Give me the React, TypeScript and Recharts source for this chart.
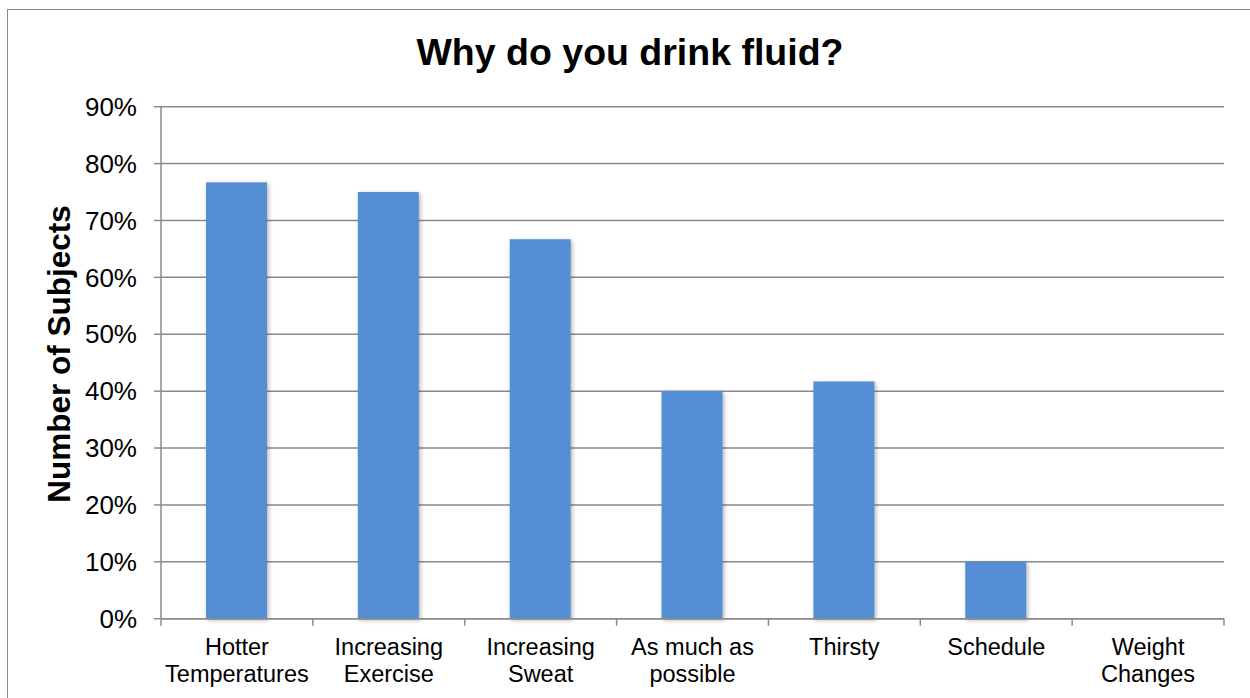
import React from "react";
import { Bar, BarChart, CartesianGrid, XAxis, YAxis } from "recharts";

// categories and values ("\n" marks where the label wraps)
const categories = [
  "Hotter\nTemperatures",
  "Increasing\nExercise",
  "Increasing\nSweat",
  "As much as\npossible",
  "Thirsty",
  "Schedule",
  "Weight\nChanges",
];
const shares = [0.767, 0.75, 0.667, 0.4, 0.417, 0.1, 0];
const yTicks = [0, 0.1, 0.2, 0.3, 0.4, 0.5, 0.6, 0.7, 0.8, 0.9];

const data = categories.map((name, i) => ({ name, share: shares[i] }));

const FONT = '"Liberation Sans", Arial, Helvetica, sans-serif';
const AXIS_GRAY = "#8a8a8a";
const BAR_BLUE = "#558ed5";
const TICK_SIZE = 7;
const TICK_MARGIN = 13;

// label plus the Excel-style tick marks on the category boundaries
function CategoryTick(props: any) {
  const { x, y, payload, index, visibleTicksCount, width } = props;
  const half =
    payload && typeof payload.offset === "number" && payload.offset > 0
      ? payload.offset
      : width / visibleTicksCount / 2;
  const lines = String(payload.value).split("\n");
  const top = y - TICK_MARGIN - TICK_SIZE;
  const bottom = y - TICK_MARGIN;
  const isLast = index === visibleTicksCount - 1;
  return (
    <g>
      <line x1={x - half} x2={x - half} y1={top} y2={bottom} stroke={AXIS_GRAY} strokeWidth={1.5} />
      {isLast && (
        <line x1={x + half} x2={x + half} y1={top} y2={bottom} stroke={AXIS_GRAY} strokeWidth={1.5} />
      )}
      <text x={x} y={y} textAnchor="middle" fontSize={23.5} fontFamily={FONT} fill="#000">
        {lines.map((line, i) => (
          <tspan key={i} x={x} dy={i === 0 ? "0.71em" : 26.5}>
            {line}
          </tspan>
        ))}
      </text>
    </g>
  );
}

function ShadowBar(props: any) {
  const { x, y, width, height, fill } = props;
  if (!height || height <= 0) return null;
  return (
    <rect
      x={x}
      y={y}
      width={width}
      height={height}
      fill={fill}
      filter="url(#barShadow)"
    />
  );
}

export default function App() {
  return (
    <div
      style={{
        position: "fixed",
        left: 0,
        top: 0,
        width: 1250,
        height: 698,
        overflow: "hidden",
        background: "#fff",
        fontFamily: FONT,
      }}
    >
      <svg width={0} height={0} style={{ position: "absolute" }}>
        <defs>
          <filter id="barShadow" x="-20%" y="-20%" width="140%" height="140%">
            <feDropShadow dx="1.5" dy="1.5" stdDeviation="2" floodColor="#000" floodOpacity="0.3" />
          </filter>
        </defs>
      </svg>

      <div
        style={{
          position: "absolute",
          left: 7,
          top: 9,
          width: 1270,
          height: 720,
          border: `1.5px solid ${AXIS_GRAY}`,
        }}
      />

      <div
        style={{
          position: "absolute",
          left: 0,
          width: 1260,
          top: 34,
          lineHeight: "37.5px",
          fontSize: 37.5,
          fontWeight: "bold",
          textAlign: "center",
          color: "#000",
          whiteSpace: "nowrap",
        }}
      >
        Why do you drink fluid?
      </div>

      <div
        style={{
          position: "absolute",
          left: 60,
          top: 354,
          transform: "translate(-50%, -50%) rotate(-90deg)",
          fontSize: 31.5,
          lineHeight: "31.5px",
          fontWeight: "bold",
          color: "#000",
          whiteSpace: "nowrap",
        }}
      >
        Number of Subjects
      </div>

      <div style={{ position: "absolute", left: 0, top: 0 }}>
        <BarChart
          width={1250}
          height={698}
          data={data}
          margin={{ top: 106.7, right: 26, bottom: 0, left: 0 }}
          barSize={61}
        >
          <CartesianGrid
            vertical={false}
            stroke={AXIS_GRAY}
            strokeWidth={1.5}
          />
          <XAxis
            dataKey="name"
            height={79.3}
            interval={0}
            tickLine={false}
            axisLine={{ stroke: AXIS_GRAY, strokeWidth: 1.5 }}
            tickSize={TICK_SIZE}
            tickMargin={TICK_MARGIN}
            tick={<CategoryTick />}
          />
          <YAxis
            width={161}
            domain={[0, 0.9]}
            ticks={yTicks}
            interval={0}
            tickSize={7}
            tickMargin={17}
            tickFormatter={(v: number) => `${Math.round(v * 100)}%`}
            tick={{ fontSize: 26, fill: "#000", fontFamily: FONT }}
            tickLine={{ stroke: AXIS_GRAY, strokeWidth: 1.5 }}
            axisLine={{ stroke: AXIS_GRAY, strokeWidth: 1.5 }}
          />
          <Bar
            dataKey="share"
            fill={BAR_BLUE}
            shape={<ShadowBar />}
            isAnimationActive={false}
          />
        </BarChart>
      </div>
    </div>
  );
}
